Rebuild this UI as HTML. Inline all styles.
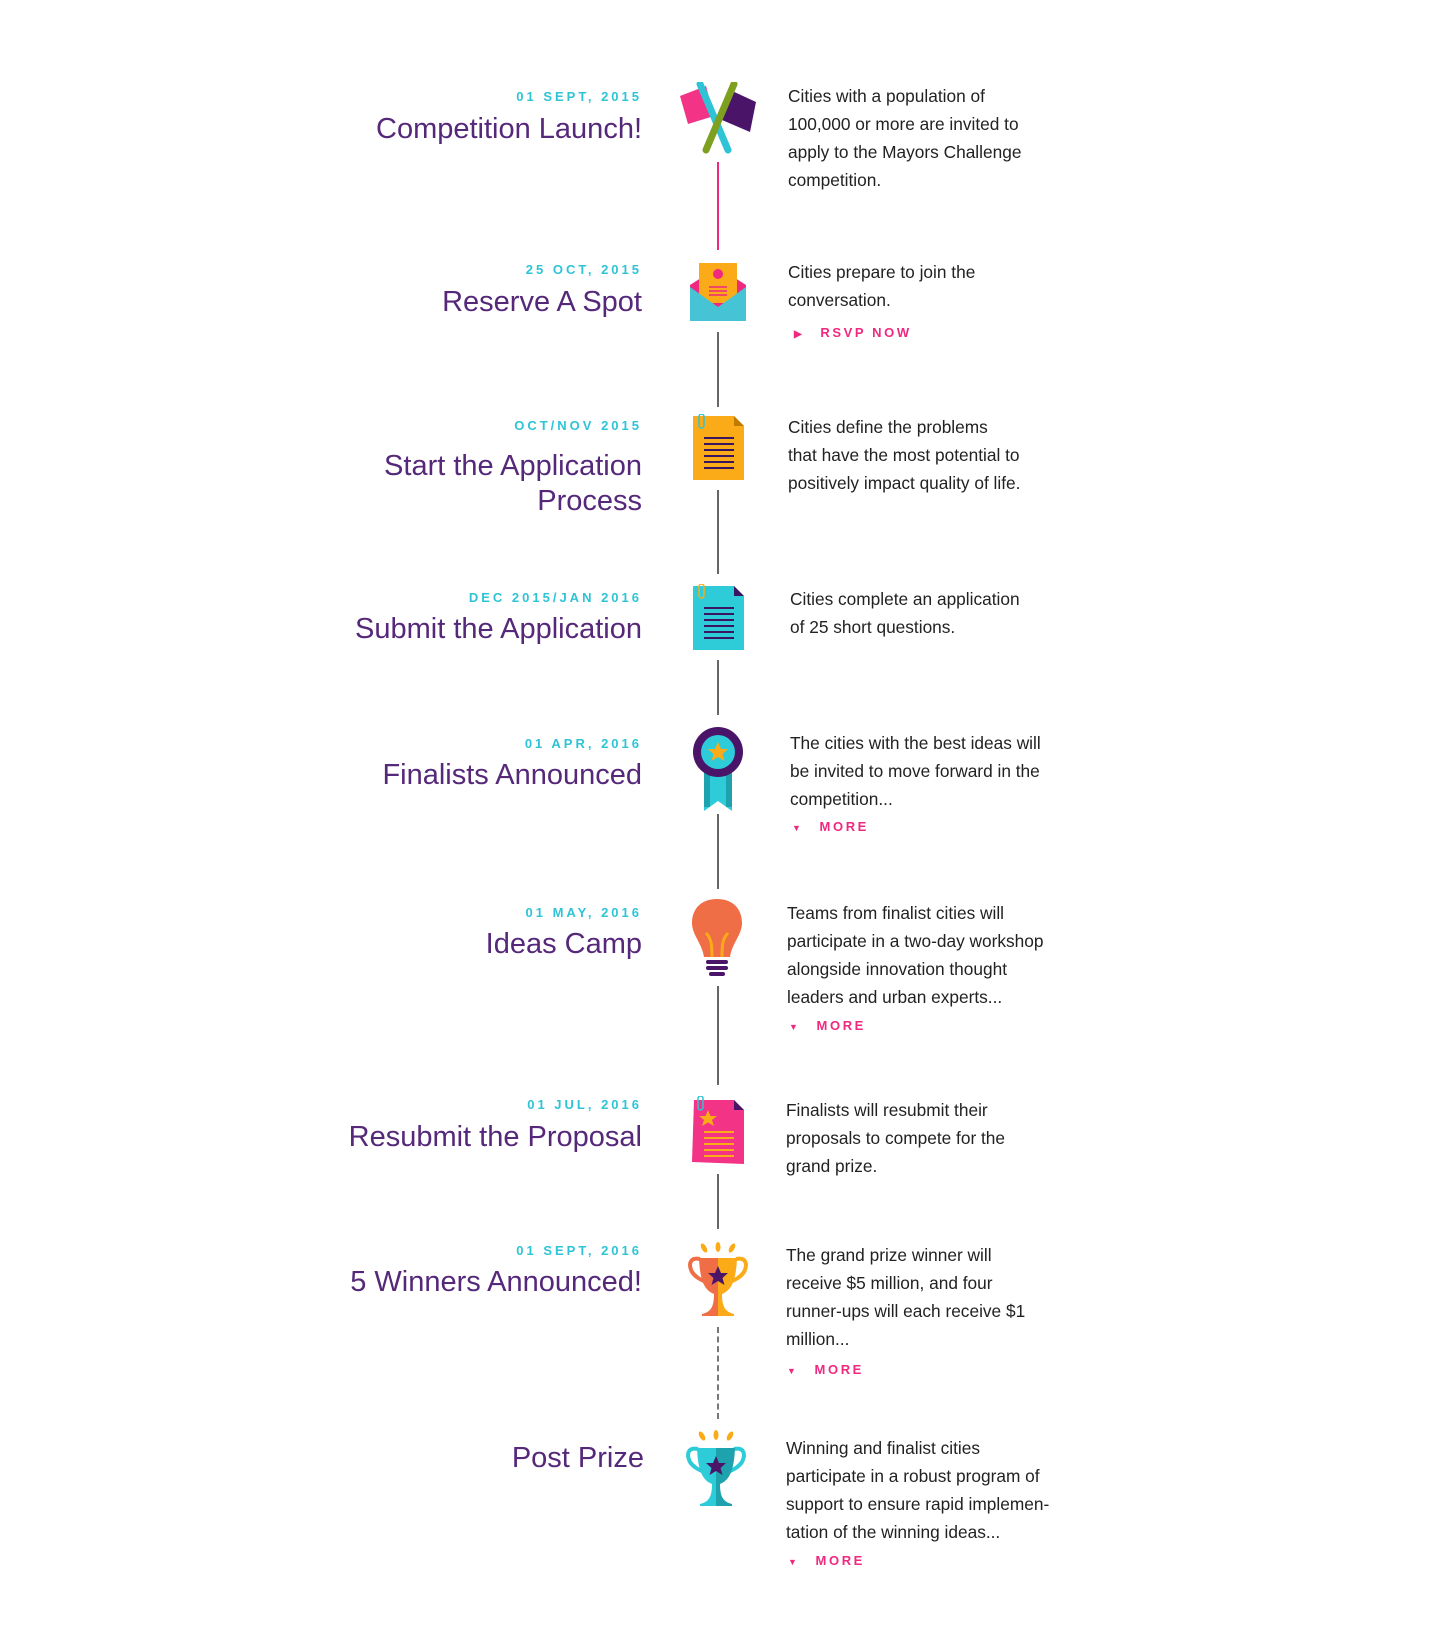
<!DOCTYPE html>
<html><head><meta charset="utf-8"><style>
body{margin:0;width:1440px;height:1640px;background:#fff;position:relative;font-family:"Liberation Sans",sans-serif;overflow:hidden}
.d{position:absolute;right:798px;font-size:13px;line-height:16px;letter-spacing:3px;color:#2ec4d6;font-weight:bold;white-space:nowrap;margin-top:2px}
.t{position:absolute;right:798px;font-size:29px;line-height:35px;color:#55287a;text-align:right;white-space:nowrap;margin-top:3px}
.p{position:absolute;left:788px;font-size:17.3px;line-height:28px;color:#222;white-space:nowrap;margin-top:2px}
.m{position:absolute;left:790px;font-size:13px;line-height:16px;letter-spacing:2.6px;color:#f0287f;font-weight:bold;margin-top:2px}
.l{position:absolute;left:717px;width:2px;background:#666}
svg{position:absolute}
</style></head><body>
<div class="l" style="top:162px;height:88px;background:#f0287f;width:1.5px"></div>
<div class="l" style="top:332px;height:75px"></div>
<div class="l" style="top:490px;height:84px"></div>
<div class="l" style="top:660px;height:55px"></div>
<div class="l" style="top:814px;height:75px"></div>
<div class="l" style="top:986px;height:99px"></div>
<div class="l" style="top:1174px;height:55px"></div>
<div class="l" style="top:1327px;height:92px;background:none;border-left:2px dashed #777;width:0"></div>

<div class="d" style="top:87px">01 SEPT, 2015</div>
<div class="t" style="top:109px">Competition Launch!</div>
<div class="p" style="top:80px">Cities with a population of<br>100,000 or more are invited to<br>apply to the Mayors Challenge<br>competition.</div>
<svg style="left:676px;top:82px" width="84" height="72" viewBox="0 0 84 72"><polygon points="4,14 30,4 38,34 12,42" fill="#f23386"/><polygon points="54,8 80,20 74,50 46,38" fill="#4a1568"/><line x1="24" y1="2" x2="52" y2="68" stroke="#2ec4d6" stroke-width="7" stroke-linecap="round"/><line x1="58" y1="2" x2="30" y2="68" stroke="#7ea020" stroke-width="7" stroke-linecap="round"/></svg>

<div class="d" style="top:260px">25 OCT, 2015</div>
<div class="t" style="top:282px">Reserve A Spot</div>
<div class="p" style="top:256px">Cities prepare to join the<br>conversation.</div>
<div class="m" style="top:323px;left:794px"><span style="font-size:10px;letter-spacing:0">▶</span>&nbsp;&nbsp; RSVP NOW</div>
<svg style="left:690px;top:263px" width="56" height="58" viewBox="0 0 56 58"><polygon points="0,22 28,4 56,22 56,58 0,58" fill="#f0287f"/><rect x="9" y="0" width="38" height="40" fill="#fbab18"/><circle cx="28" cy="11" r="5" fill="#f0287f"/><g stroke="#f0287f" stroke-width="1.5"><line x1="19" y1="24" x2="37" y2="24"/><line x1="19" y1="28" x2="37" y2="28"/><line x1="19" y1="32" x2="37" y2="32"/></g><polygon points="0,24 28,44 56,24 56,58 0,58" fill="#46c4d6"/></svg>

<div class="d" style="top:416px">OCT/NOV 2015</div>
<div class="t" style="top:446px">Start the Application<br>Process</div>
<div class="p" style="top:411px">Cities define the problems<br>that have the most potential to<br>positively impact quality of life.</div>
<svg style="left:690px;top:414px" width="56" height="68" viewBox="0 0 56 68"><polygon points="3,2 44,2 54,12 54,66 3,66" fill="#fbab18"/><polygon points="44,2 54,12 44,12" fill="#c07a00"/><g stroke="#3a1660" stroke-width="2"><line x1="14" y1="24" x2="44" y2="24"/><line x1="14" y1="30" x2="44" y2="30"/><line x1="14" y1="36" x2="44" y2="36"/><line x1="14" y1="42" x2="44" y2="42"/><line x1="14" y1="48" x2="44" y2="48"/><line x1="14" y1="54" x2="44" y2="54"/></g><rect x="9" y="0" width="5" height="14" rx="2.5" fill="none" stroke="#2ec4d6" stroke-width="1.5"/></svg>

<div class="d" style="top:588px">DEC 2015/JAN 2016</div>
<div class="t" style="top:609px">Submit the Application</div>
<div class="p" style="top:583px;left:790px">Cities complete an application<br>of 25 short questions.</div>
<svg style="left:690px;top:584px" width="56" height="68" viewBox="0 0 56 68"><polygon points="3,2 44,2 54,12 54,66 3,66" fill="#2ecbd9"/><polygon points="44,2 54,12 44,12" fill="#3a1660"/><g stroke="#3a1660" stroke-width="2"><line x1="14" y1="24" x2="44" y2="24"/><line x1="14" y1="30" x2="44" y2="30"/><line x1="14" y1="36" x2="44" y2="36"/><line x1="14" y1="42" x2="44" y2="42"/><line x1="14" y1="48" x2="44" y2="48"/><line x1="14" y1="54" x2="44" y2="54"/></g><rect x="9" y="0" width="5" height="14" rx="2.5" fill="none" stroke="#fbab18" stroke-width="1.5"/></svg>

<div class="d" style="top:734px">01 APR, 2016</div>
<div class="t" style="top:755px">Finalists Announced</div>
<div class="p" style="top:727px;left:790px">The cities with the best ideas will<br>be invited to move forward in the<br>competition...</div>
<div class="m" style="top:817px;left:792px"><span style="font-size:9px;letter-spacing:0">▼</span>&nbsp;&nbsp; MORE</div>
<svg style="left:692px;top:727px" width="52" height="86" viewBox="0 0 52 86"><polygon points="12,36 40,36 40,84 26,74 12,84" fill="#2ecbd9"/><rect x="12" y="36" width="6" height="44" fill="#1ea3ae"/><rect x="34" y="36" width="6" height="44" fill="#1ea3ae"/><circle cx="26" cy="25" r="25" fill="#4a1568"/><circle cx="26" cy="25" r="17" fill="#2ecbd9"/><polygon points="26,15 29,22 36,22 30.5,27 32.5,34 26,30 19.5,34 21.5,27 16,22 23,22" fill="#fbab18"/></svg>

<div class="d" style="top:903px">01 MAY, 2016</div>
<div class="t" style="top:924px">Ideas Camp</div>
<div class="p" style="top:897px;left:787px">Teams from finalist cities will<br>participate in a two-day workshop<br>alongside innovation thought<br>leaders and urban experts...</div>
<div class="m" style="top:1016px;left:789px"><span style="font-size:9px;letter-spacing:0">▼</span>&nbsp;&nbsp; MORE</div>
<svg style="left:690px;top:899px" width="54" height="80" viewBox="0 0 54 80"><path d="M27,0 C43,0 52,10 52,24 C52,36 42,44 40,58 L14,58 C12,44 2,36 2,24 C2,10 11,0 27,0Z" fill="#f06e45"/><path d="M16,34 C22,40 22,48 22,58 M38,34 C32,40 32,48 32,58" stroke="#fbab18" stroke-width="3" fill="none"/><g stroke="#4a1568" stroke-width="4" stroke-linecap="round"><line x1="18" y1="63" x2="36" y2="63"/><line x1="18" y1="69" x2="36" y2="69"/><line x1="21" y1="75" x2="33" y2="75"/></g></svg>

<div class="d" style="top:1095px">01 JUL, 2016</div>
<div class="t" style="top:1117px">Resubmit the Proposal</div>
<div class="p" style="top:1094px;left:786px">Finalists will resubmit their<br>proposals to compete for the<br>grand prize.</div>
<svg style="left:690px;top:1096px" width="56" height="70" viewBox="0 0 56 70"><polygon points="4,4 44,4 54,14 54,68 2,66" fill="#f23386"/><polygon points="44,4 54,14 44,14" fill="#4a1568"/><polygon points="18,14 20.5,20 27,20 22,24 24,30 18,26.5 12,30 14,24 9,20 15.5,20" fill="#fbab18"/><g stroke="#fbab18" stroke-width="2"><line x1="14" y1="36" x2="44" y2="36"/><line x1="14" y1="42" x2="44" y2="42"/><line x1="14" y1="48" x2="44" y2="48"/><line x1="14" y1="54" x2="44" y2="54"/><line x1="14" y1="60" x2="44" y2="60"/></g><rect x="8" y="0" width="5" height="14" rx="2.5" fill="none" stroke="#2ec4d6" stroke-width="1.5"/></svg>

<div class="d" style="top:1241px">01 SEPT, 2016</div>
<div class="t" style="top:1262px">5 Winners Announced!</div>
<div class="p" style="top:1239px;left:786px">The grand prize winner will<br>receive $5 million, and four<br>runner-ups will each receive $1<br>million...</div>
<div class="m" style="top:1360px;left:787px"><span style="font-size:9px;letter-spacing:0">▼</span>&nbsp;&nbsp; MORE</div>
<svg style="left:686px;top:1242px" width="64" height="76" viewBox="0 0 64 76"><g fill="#fbab18"><ellipse cx="18" cy="6" rx="2.5" ry="5" transform="rotate(-30 18 6)"/><ellipse cx="32" cy="5" rx="2.5" ry="5"/><ellipse cx="46" cy="6" rx="2.5" ry="5" transform="rotate(30 46 6)"/></g><path d="M14,17 C4,15 2,22 6,30 C10,36 16,38 20,40" stroke="#f06e45" stroke-width="4" fill="none"/><path d="M50,17 C60,15 62,22 58,30 C54,36 48,38 44,40" stroke="#fbab18" stroke-width="4" fill="none"/><path d="M13,16 L32,16 L32,74 L16,74 L16,72 C24,70 28,66 28,52 C18,48 14,38 13,16Z" fill="#f06e45"/><path d="M51,16 L32,16 L32,74 L48,74 L48,72 C40,70 36,66 36,52 C46,48 50,38 51,16Z" fill="#fbab18"/><polygon points="32,24 35,31 42,31 36.5,36 38.5,43 32,39 25.5,43 27.5,36 22,31 29,31" fill="#4a1568"/></svg>

<div class="t" style="top:1438px;right:796px">Post Prize</div>
<div class="p" style="top:1432px;left:786px">Winning and finalist cities<br>participate in a robust program of<br>support to ensure rapid implemen-<br>tation of the winning ideas...</div>
<div class="m" style="top:1551px;left:788px"><span style="font-size:9px;letter-spacing:0">▼</span>&nbsp;&nbsp; MORE</div>
<svg style="left:684px;top:1430px" width="64" height="78" viewBox="0 0 64 78"><g fill="#fbab18"><ellipse cx="18" cy="6" rx="2.5" ry="5" transform="rotate(-30 18 6)"/><ellipse cx="32" cy="5" rx="2.5" ry="5"/><ellipse cx="46" cy="6" rx="2.5" ry="5" transform="rotate(30 46 6)"/></g><path d="M14,19 C4,17 2,24 6,32 C10,38 16,40 20,42" stroke="#2ecbd9" stroke-width="4" fill="none"/><path d="M50,19 C60,17 62,24 58,32 C54,38 48,40 44,42" stroke="#2ecbd9" stroke-width="4" fill="none"/><path d="M13,18 L32,18 L32,76 L16,76 L16,74 C24,72 28,68 28,54 C18,50 14,40 13,18Z" fill="#2ecbd9"/><path d="M51,18 L32,18 L32,76 L48,76 L48,74 C40,72 36,68 36,54 C46,50 50,40 51,18Z" fill="#1ea3ae"/><polygon points="32,26 35,33 42,33 36.5,38 38.5,45 32,41 25.5,45 27.5,38 22,33 29,33" fill="#4a1568"/></svg>
</body></html>
